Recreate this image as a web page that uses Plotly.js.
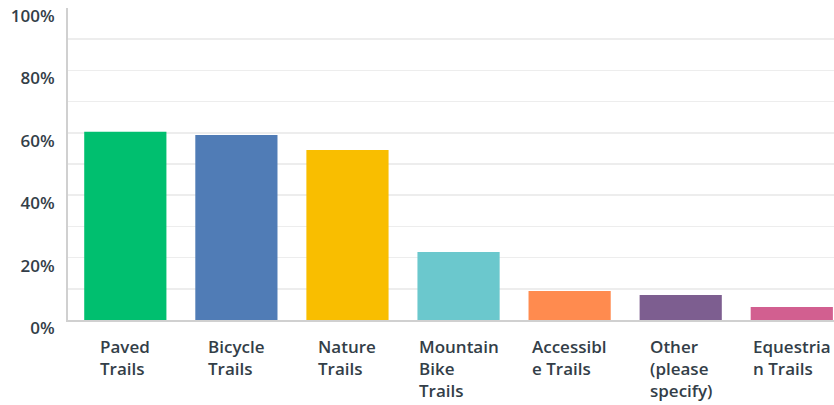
<!DOCTYPE html>
<html>
<head>
<meta charset="utf-8">
<script src="https://cdn.plot.ly/plotly-3.0.1.min.js"></script>
<style>html,body{margin:0;padding:0;background:#fff}#chart{width:834px;height:405px}</style>
</head>
<body>
<div id="chart"></div>
<script>
const categories = ["Paved Trails", "Bicycle Trails", "Nature Trails", "Mountain Bike Trails", "Accessible Trails", "Other (please specify)", "Equestrian Trails"];
const tickLabels = ["Paved<br>Trails", "Bicycle<br>Trails", "Nature<br>Trails", "Mountain<br>Bike<br>Trails", "Accessibl<br>e Trails", "Other<br>(please<br>specify)", "Equestria<br>n Trails"];
const values = [60.3, 59.3, 54.5, 21.8, 9.3, 8.0, 4.2];
const yTickVals = [0, 20, 40, 60, 80, 100];
const yTickText = ["0%", "20%", "40%", "60%", "80%", "100%"];

const barColors = ["#00BF6F", "#507CB6", "#F9BE00", "#6BC8CD", "#FF8B4F", "#7D5E90", "#D25F90"];
const textColor = "#333E48";
const fontFamily = "'Open Sans', sans-serif";

const trace = {
  type: "bar",
  x: categories,
  y: values,
  marker: {color: barColors},
  hoverinfo: "x+y"
};

const annotations = categories.map((c, i) => ({
  x: c, xref: "x",
  y: 0, yref: "paper",
  yanchor: "top", xanchor: "center",
  yshift: -13,
  align: "left",
  showarrow: false,
  text: tickLabels[i],
  font: {family: fontFamily, size: 17, color: textColor, weight: 600}
}));

const layout = {
  width: 834, height: 405,
  margin: {l: 68, r: 0, t: 8, b: 85, pad: 0},
  paper_bgcolor: "#fff", plot_bgcolor: "#fff",
  bargap: 0.26,
  showlegend: false,
  xaxis: {
    type: "category",
    range: [-0.516, 6.38],
    showticklabels: false,
    showgrid: false,
    showline: true, linecolor: "#D0D0D0", linewidth: 2,
    ticks: "", fixedrange: true
  },
  yaxis: {
    range: [0, 100],
    tickvals: yTickVals, ticktext: yTickText,
    showgrid: true, gridcolor: "#EDEDED", gridwidth: 1.5,
    minor: {dtick: 10, tick0: 0, showgrid: true, gridcolor: "#EDEDED", gridwidth: 1.5, ticks: ""},
    showline: true, linecolor: "#D0D0D0", linewidth: 2,
    zeroline: false,
    ticks: "",
    ticklabelstandoff: 8,
    ticklabelshift: 8,
    tickfont: {family: fontFamily, size: 17, color: textColor, weight: 600},
    fixedrange: true
  },
  annotations: annotations
};

Plotly.newPlot("chart", [trace], layout, {displayModeBar: false, staticPlot: true});
</script>
</body>
</html>
